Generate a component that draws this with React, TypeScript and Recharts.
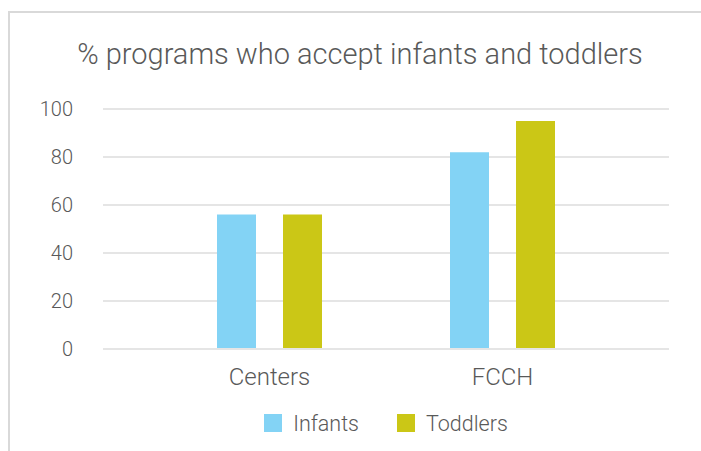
import React from 'react';
import { BarChart, Bar, XAxis, YAxis, CartesianGrid, Legend } from 'recharts';

const categories = ['Centers', 'FCCH'];
const infants = [56, 82];
const toddlers = [56, 95];
const yTicks = [0, 20, 40, 60, 80, 100];
const title = '% programs who accept infants and toddlers';

const data = categories.map((c, i) => ({ name: c, Infants: infants[i], Toddlers: toddlers[i] }));

const FONT = 'Roboto, "Noto Sans", sans-serif';
const TEXT = '#595959';

const LegendContent = (props: any) => {
  const { payload } = props;
  return (
    <div style={{ display: 'flex', justifyContent: 'center', alignItems: 'center', height: 30, fontFamily: FONT, fontWeight: 300, fontSize: 21.5, color: TEXT }}>
      {(payload || []).map((p: any, i: number) => (
        <div key={i} style={{ display: 'flex', alignItems: 'center', marginLeft: i === 0 ? 0 : 38 }}>
          <div style={{ width: 18, height: 18, background: p.color, marginRight: 11 }} />
          <span>{p.value}</span>
        </div>
      ))}
    </div>
  );
};

export default function App() {
  return (
    <div style={{ position: 'fixed', top: 11, left: 8, borderTop: '2px solid #d9d9d9', borderLeft: '2px solid #d9d9d9', width: 720, height: 460, background: '#fff', overflow: 'hidden' }}>
      <div style={{ position: 'absolute', top: 27, left: 0, width: 700, textAlign: 'center', fontFamily: FONT, fontWeight: 300, fontSize: 29, lineHeight: '29px', color: TEXT, whiteSpace: 'nowrap' }}>
        {title}
      </div>
      <div style={{ position: 'absolute', top: 0, left: 0 }}>
        <BarChart width={690} height={438} data={data} margin={{ top: 96, right: 31, left: 0, bottom: 10 }} barSize={39} barGap={27}>
          <CartesianGrid vertical={false} stroke="#e5e5e5" strokeWidth={2} />
          <XAxis dataKey="name" axisLine={{ stroke: '#e5e5e5', strokeWidth: 2 }} tickLine={false} tickSize={0} tickMargin={19} height={62} padding={{ left: 50, right: 50 }} tick={{ fill: TEXT, fontSize: 24, fontFamily: FONT, fontWeight: 300 }} />
          <YAxis domain={[0, 100]} ticks={yTicks} axisLine={false} tickLine={false} tickSize={0} tickMargin={30} width={93} tick={{ fill: TEXT, fontSize: 20, fontFamily: FONT, fontWeight: 300 }} />
          <Legend verticalAlign="bottom" content={<LegendContent />} wrapperStyle={{ top: 395, left: 93, width: 566, bottom: 'auto', height: 30 }} />
          <Bar dataKey="Infants" fill="#83D3F5" isAnimationActive={false} />
          <Bar dataKey="Toddlers" fill="#CBC716" isAnimationActive={false} />
        </BarChart>
      </div>
    </div>
  );
}
